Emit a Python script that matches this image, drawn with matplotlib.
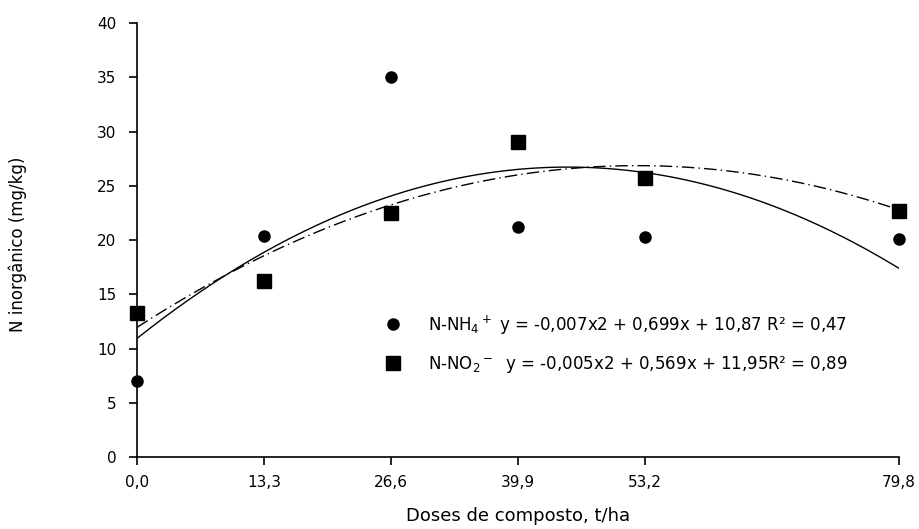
import numpy as np
import matplotlib
matplotlib.use("Agg")
import matplotlib.pyplot as plt

plt.rcParams['font.family'] = ['DejaVu Sans']
plt.rcParams['mathtext.fontset'] = 'dejavusans'

doses = [0.0, 13.3, 26.6, 39.9, 53.2, 79.8]
tick_labels = ["0,0", "13,3", "26,6", "39,9", "53,2", "79,8"]
nh4 = [7.0, 20.4, 35.0, 21.2, 20.3, 20.1]
no3 = [13.3, 16.2, 22.5, 29.0, 25.7, 22.7]

fig = plt.figure(figsize=(9.2, 5.29), dpi=100)
ax = fig.add_axes([0.149, 0.136, 0.828, 0.8205])

x = np.linspace(0, 79.8, 300)
c_nh4 = np.polyfit(doses, nh4, 2)
c_no3 = np.polyfit(doses, no3, 2)
ax.plot(x, np.polyval(c_nh4, x), color='black', lw=1.0, ls='-')
ax.plot(x, np.polyval(c_no3, x), color='black', lw=1.0, ls=(0, (9, 3, 1, 3)))

h1, = ax.plot(doses, nh4, 'o', color='black', ms=8, ls='none', clip_on=False, zorder=5)
h2, = ax.plot(doses, no3, 's', color='black', ms=9.5, ls='none', clip_on=False, zorder=5)

ax.legend([h1, h2],
          ["N-NH$_4$$^+$ y = -0,007x2 + 0,699x + 10,87 R² = 0,47",
           "N-NO$_2$$^-$  y = -0,005x2 + 0,569x + 11,95R² = 0,89"],
          loc='center left', bbox_to_anchor=(0.3135, 0.26), frameon=False,
          fontsize=12, handletextpad=1.6, labelspacing=1.05, borderpad=0,
          handlelength=1.0)

ax.set_xlim(0, 79.8)
ax.set_ylim(0, 40)
ax.set_xticks(doses)
ax.set_xticklabels(tick_labels)
ax.set_yticks(np.arange(0, 41, 5))
for s in ['top', 'right']:
    ax.spines[s].set_visible(False)
for s in ['left', 'bottom']:
    ax.spines[s].set_linewidth(1.2)
ax.tick_params(direction='out', length=6, width=1.2, labelsize=11, colors='black')
ax.tick_params(axis='y', pad=9)
ax.tick_params(axis='x', pad=7)
ax.set_xlabel("Doses de composto, t/ha", fontsize=13, labelpad=12)
ax.set_ylabel("N inorgânico (mg/kg)", fontsize=12)
ax.yaxis.set_label_coords(-0.144, 0.49)

fig.savefig("out.png", dpi=100)
